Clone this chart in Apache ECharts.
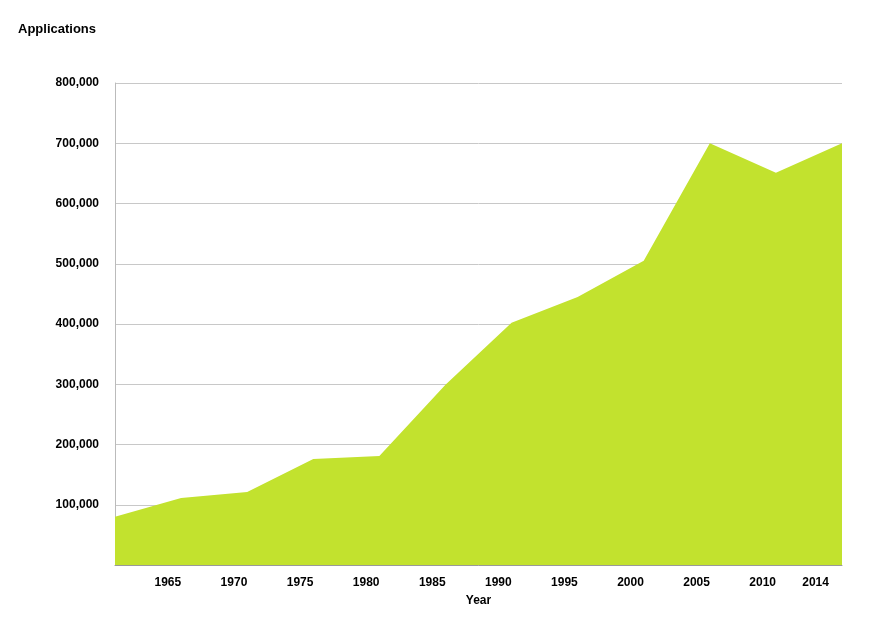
<!DOCTYPE html>
<html><head><meta charset="utf-8">
<script src="https://cdn.jsdelivr.net/npm/echarts@6/dist/echarts.min.js"></script>
<style>html,body{margin:0;padding:0;background:#fff}#c{width:880px;height:630px}</style>
</head><body><div id="c"></div>
<script>
const years = [1961,1966,1971,1976,1981,1986,1991,1996,2001,2006,2011,2016];
const applications = [80000,111000,121000,176000,181000,299000,402000,445000,505000,700000,651000,700000];
const xTickLabels = [1965,1970,1975,1980,1985,1990,1995,2000,2005,2010,2014];
const yTicks = [100000,200000,300000,400000,500000,600000,700000,800000];
const chart = echarts.init(document.getElementById('c'));
const lbl = {color:'#000',fontWeight:'bold',fontSize:12,fontFamily:'Arial, Liberation Sans, sans-serif'};
chart.setOption({
  animation:false,
  grid:{left:115,right:38,top:83,bottom:65},
  title:{text:'Applications',left:13,top:18,textStyle:Object.assign({},lbl,{fontSize:13})},
  xAxis:{type:'value',min:1961,max:2016,interval:1,
    name:'Year',nameLocation:'middle',nameGap:30,nameTextStyle:Object.assign({},lbl),
    axisLine:{show:true,lineStyle:{color:'#999'}},axisTick:{show:false},splitLine:{show:false},
    axisLabel:Object.assign({},lbl,{interval:0,margin:12,formatter:v=>xTickLabels.includes(v)?String(v):''})},
  yAxis:{type:'value',min:0,max:800000,interval:100000,
    axisLine:{show:true,lineStyle:{color:'#bbb'}},axisTick:{show:false},
    splitLine:{lineStyle:{color:'#c8c8c8'}},
    axisLabel:Object.assign({},lbl,{margin:16,formatter:v=>yTicks.includes(v)?v.toLocaleString('en-US'):''})},
  series:[{type:'line',data:years.map((y,i)=>[y,applications[i]]),symbol:'none',
    lineStyle:{width:0},areaStyle:{color:'#c2e22e',opacity:1}}]
});
</script></body></html>
